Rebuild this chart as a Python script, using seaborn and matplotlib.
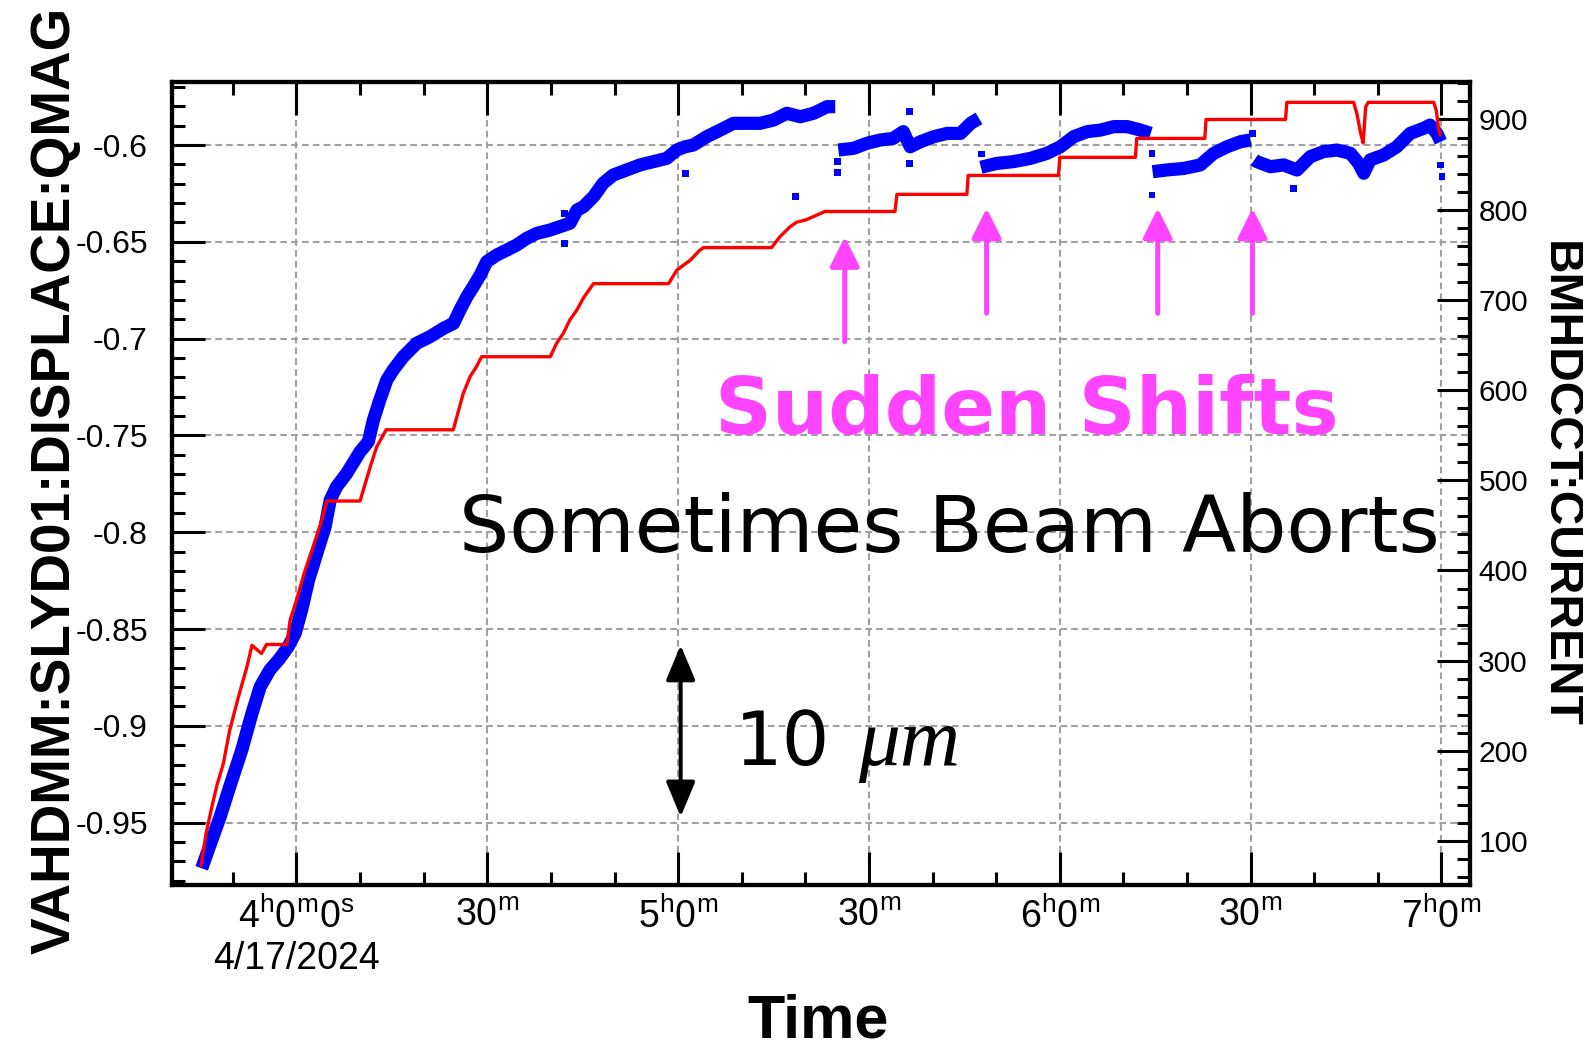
import numpy as np
import pandas as pd
import matplotlib
matplotlib.use("Agg")
import matplotlib.pyplot as plt
import seaborn as sns
from matplotlib.ticker import MultipleLocator, FuncFormatter
from matplotlib import font_manager

# ---------------- data (time = minutes after 4h0m, 4/17/2024) ----------------
red_t = [-15.0, -14.2, -13.3, -12.5, -11.5, -10.5, -9.2, -7.8, -7.0, -5.5, -4.7, -1.5, -1.0, 0.0,
         1.3, 2.6, 4.0, 4.75, 10.0, 10.5, 11.6, 12.6, 14.1, 24.65, 25.2, 26.2, 27.3, 28.3, 29.1,
         39.9, 40.9, 41.95, 43.0, 44.1, 45.1, 46.7, 58.5, 59.8, 61.9, 63.4, 64.0, 74.7, 76.0,
         77.6, 78.6, 80.2, 81.8, 83.1, 94.1, 94.4, 105.4, 105.6, 119.8, 120.0, 131.9, 132.1,
         142.8, 143.0, 155.5, 155.7, 166.2, 166.7, 167.3, 167.7, 168.1, 168.5, 178.8, 179.2,
         179.6, 179.8]
red_current = [73, 109, 138, 162, 186, 223, 258, 293, 317, 308, 318, 318, 345, 367,
               399, 426, 456, 477, 477, 489, 515, 537, 556, 556, 570, 596, 615, 626, 637,
               637, 652, 663, 678, 689, 702, 718, 718, 733, 744, 755, 758, 758, 770,
               781, 786, 789, 794, 798, 798, 817, 817, 838, 838, 858, 858, 879,
               879, 900, 900, 919, 919, 907, 885, 874, 914, 919, 919, 910,
               888, 883]

blue_seg1_t = [-14.9, -13.6, -12.0, -10.5, -8.6, -7.0, -5.7, -4.2, -2.6, -1.3, -0.2, 0.8, 1.9,
               3.2, 4.5, 5.3, 6.3, 7.9, 8.7, 10.0, 11.3, 12.1, 13.1, 14.2, 15.2, 16.8, 18.9,
               21.0, 23.1, 24.7, 25.7, 26.8, 27.8, 28.9, 29.9, 31.5, 33.1, 34.6, 36.2, 37.8,
               39.9, 41.4, 43.0, 44.1, 45.1, 46.7, 48.2, 49.8, 51.9, 54.0, 56.1, 58.2, 59.8,
               61.1, 62.4, 64.5, 66.6, 68.7, 70.8, 72.9, 75.0, 77.1, 79.2, 81.3, 83.4, 84.7]
blue_seg1_v = [-0.9736, -0.9616, -0.947, -0.9315, -0.9125, -0.8936, -0.8798, -0.8712, -0.8651,
               -0.8591, -0.8522, -0.8402, -0.8247, -0.8109, -0.7972, -0.7834, -0.7765, -0.7696,
               -0.7653, -0.7584, -0.7532, -0.742, -0.7317, -0.7214, -0.7162, -0.7093, -0.7024,
               -0.699, -0.6947, -0.6921, -0.6852, -0.6783, -0.6731, -0.6671, -0.6603, -0.6568,
               -0.6542, -0.6517, -0.6482, -0.6456, -0.6439, -0.6422, -0.6404, -0.6336, -0.6319,
               -0.6267, -0.6198, -0.6155, -0.6129, -0.6103, -0.6086, -0.6069, -0.6026, -0.6009,
               -0.6, -0.5957, -0.5923, -0.5888, -0.5888, -0.5888, -0.5871, -0.5836, -0.5854,
               -0.5836, -0.5802, -0.5802]
blue_seg2_t = [85.2, 87.6, 89.7, 91.8, 93.8, 95.4, 96.5, 98.1, 100.2, 102.3, 104.4, 106.0, 107.3]
blue_seg2_v = [-0.6026, -0.6017, -0.5991, -0.5974, -0.5966, -0.5931, -0.6009, -0.5983, -0.5957,
               -0.594, -0.594, -0.5888, -0.5862]
blue_seg3_t = [107.6, 110.1, 112.7, 115.4, 118.0, 120.1, 122.2, 124.3, 126.4, 128.5, 130.6, 132.7, 134.3]
blue_seg3_v = [-0.6115, -0.6095, -0.6086, -0.6069, -0.6043, -0.6009, -0.5957, -0.5931, -0.5923,
               -0.5905, -0.5905, -0.5923, -0.594]
blue_seg4_t = [134.6, 136.8, 139.5, 142.1, 144.2, 146.3, 148.4, 150.0]
blue_seg4_v = [-0.6138, -0.6129, -0.6121, -0.6103, -0.6043, -0.6009, -0.5983, -0.5974]
blue_seg5_t = [150.6, 151.0, 153.1, 155.2, 157.3, 159.4, 161.5, 163.6, 165.7, 167.0, 167.8, 168.8,
               170.9, 173.0, 175.1, 177.2, 178.2, 179.3, 179.9]
blue_seg5_v = [-0.6077, -0.6086, -0.6112, -0.6103, -0.6129, -0.606, -0.6034, -0.6026, -0.6043,
               -0.6095, -0.6146, -0.6077, -0.6052, -0.6009, -0.594, -0.5914, -0.5897, -0.594, -0.5983]

outlier_t = [42.2, 42.2, 61.1, 78.4, 85.0, 85.0, 96.4, 96.4, 107.7, 134.5, 134.5, 150.3, 156.8, 179.9, 180.1]
outlier_v = [-0.6353, -0.6508, -0.6146, -0.6267, -0.6086, -0.6143, -0.6095, -0.5828, -0.6046,
             -0.6043, -0.6258, -0.594, -0.6224, -0.6103, -0.6163]

xtick_minutes = [0, 30, 60, 90, 120, 150, 180]
xtick_labels = [r"$\mathregular{4^{h}0^{m}0^{s}}$" + "\n4/17/2024",
                r"$\mathregular{30^{m}}$", r"$\mathregular{5^{h}0^{m}}$", r"$\mathregular{30^{m}}$",
                r"$\mathregular{6^{h}0^{m}}$", r"$\mathregular{30^{m}}$", r"$\mathregular{7^{h}0^{m}}$"]

shift_arrow_t = [86.2, 108.5, 135.4, 150.3]
shift_arrow_top = [-0.6474, -0.6327, -0.6327, -0.6327]
shift_arrow_bottom = [-0.7016, -0.6869, -0.6869, -0.6869]
scale_arrow_t = 60.4
scale_arrow_top = -0.8583
scale_arrow_bottom = -0.947

# ---------------- style ----------------
sns.set_style("white")
names = {f.name for f in font_manager.fontManager.ttflist}
NARROW = next((n for n in ["Liberation Sans Narrow", "Liberation Sans"] if n in names), "DejaVu Sans")
SANS = "Liberation Sans" if "Liberation Sans" in names else "DejaVu Sans"
SERIF = "Liberation Serif" if "Liberation Serif" in names else "DejaVu Serif"
plt.rcParams["font.family"] = [NARROW, "DejaVu Sans"]
plt.rcParams["axes.unicode_minus"] = False
for key in ["text.color", "axes.labelcolor", "xtick.color", "ytick.color", "axes.edgecolor"]:
    plt.rcParams[key] = "black"

W, H = 1583, 1050
fig = plt.figure(figsize=(W / 100, H / 100), dpi=100)
fig.patch.set_facecolor("white")
L, R, T, B = 171.5, 1470, 81.7, 885
ax = fig.add_axes([L / W, 1 - B / H, (R - L) / W, (B - T) / H])
ax2 = ax.twinx()

def fpos(x, y):
    return x / W, 1 - y / H

# ---------------- data marks ----------------
seg_ts = [blue_seg1_t, blue_seg2_t, blue_seg3_t, blue_seg4_t, blue_seg5_t]
seg_vs = [blue_seg1_v, blue_seg2_v, blue_seg3_v, blue_seg4_v, blue_seg5_v]
blue_df = pd.DataFrame({
    "t": np.concatenate(seg_ts),
    "v": np.concatenate(seg_vs),
    "seg": np.concatenate([[i] * len(s) for i, s in enumerate(seg_ts)]),
})
sns.lineplot(data=blue_df, x="t", y="v", units="seg", estimator=None, sort=False,
             color="#0000ff", lw=9.5, solid_capstyle="butt", ax=ax, legend=False)
sns.scatterplot(x=outlier_t, y=outlier_v, marker="s", s=24, color="#0000ff",
                edgecolor="none", ax=ax, legend=False)

red_df = pd.DataFrame({"t": red_t, "c": red_current})
sns.lineplot(data=red_df, x="t", y="c", estimator=None, sort=False, color="#ff0000",
             lw=2.4, ax=ax2, legend=False)

# ---------------- axes ----------------
ax.set_xlim(-19.65, 184.5)
ax.set_ylim(-0.98223, -0.5673)
ax2.set_ylim(51.3, 941.9)

ax.set_xticks(xtick_minutes, labels=xtick_labels)
ax.xaxis.set_minor_locator(MultipleLocator(10))
ax.yaxis.set_major_locator(MultipleLocator(0.05))
ax.yaxis.set_minor_locator(MultipleLocator(0.01))
ax.yaxis.set_major_formatter(FuncFormatter(lambda v, p: f"{round(v, 3):g}"))
ax2.yaxis.set_major_locator(MultipleLocator(100))
ax2.yaxis.set_minor_locator(MultipleLocator(20))
ax2.yaxis.set_major_formatter(FuncFormatter(lambda v, p: f"{v:.0f}"))

ax.set_xlabel("")
ax.set_ylabel("")
ax2.set_ylabel("")

tk = dict(direction="in", width=2.2, color="black", labelcolor="black")
ax.tick_params(axis="x", which="major", length=24, top=True, bottom=True, labelsize=27, pad=9, **tk)
ax.tick_params(axis="x", which="minor", length=9.5, top=True, bottom=True, **tk)
ax.tick_params(axis="y", which="major", length=24, left=True, right=False, labelsize=23, pad=17, **tk)
ax.tick_params(axis="y", which="minor", length=9.5, left=True, right=False, **tk)
ax2.tick_params(axis="y", which="major", length=24, right=True, left=False, labelsize=21.5, pad=6, **tk)
ax2.tick_params(axis="y", which="minor", length=9.5, right=True, left=False, **tk)
for lbl in ax2.get_yticklabels():
    lbl.set_fontfamily(SANS)

ax.grid(True, which="major", color="#a0a0a0", linestyle=(0, (3.2, 2.0)), linewidth=1.5)
ax2.grid(False)
for a in (ax, ax2):
    for s in a.spines.values():
        s.set_linewidth(3)
        s.set_color("black")

# ---------------- annotations ----------------
for t, top, bot in zip(shift_arrow_t, shift_arrow_top, shift_arrow_bottom):
    ax.annotate("", xy=(t, top), xytext=(t, bot),
                arrowprops=dict(arrowstyle="-|>,head_length=0.4,head_width=0.2",
                                color="#ff44ff", lw=3.6, mutation_scale=45,
                                shrinkA=0, shrinkB=0))
ax.annotate("", xy=(scale_arrow_t, scale_arrow_top), xytext=(scale_arrow_t, scale_arrow_bottom),
            arrowprops=dict(arrowstyle="<|-|>,head_length=0.48,head_width=0.2",
                            color="black", lw=2.9, mutation_scale=45, shrinkA=0, shrinkB=0))

fig.text(*fpos(1027, 434), "Sudden Shifts", color="#ff44ff", fontsize=57, fontweight="bold",
         family="DejaVu Sans", ha="center", va="baseline")
fig.text(*fpos(949, 552), "Sometimes Beam Aborts", color="black", fontsize=57,
         family="DejaVu Sans", ha="center", va="baseline")
fig.text(*fpos(735, 765), "10", color="black", fontsize=54, family="DejaVu Sans",
         ha="left", va="baseline")
fig.text(*fpos(858, 765), "μm", color="black", fontsize=60, family=SERIF, style="italic",
         ha="left", va="baseline")
fig.text(*fpos(818, 1038), "Time", color="black", family=NARROW, fontweight="bold", fontsize=44,
         ha="center", va="baseline")
fig.text(*fpos(55.5, 480), "VAHDMM:SLYD01:DISPLACE:QMAG", color="black", rotation=90,
         family=NARROW, fontweight="bold", fontsize=39.5, ha="center", va="center")
fig.text(*fpos(1582, 484.5), "BMHDCCT:CURRENT", color="black", rotation=270, family=NARROW,
         fontweight="bold", fontsize=34.5, ha="right", va="center")

fig.savefig("out.png", dpi=100)
